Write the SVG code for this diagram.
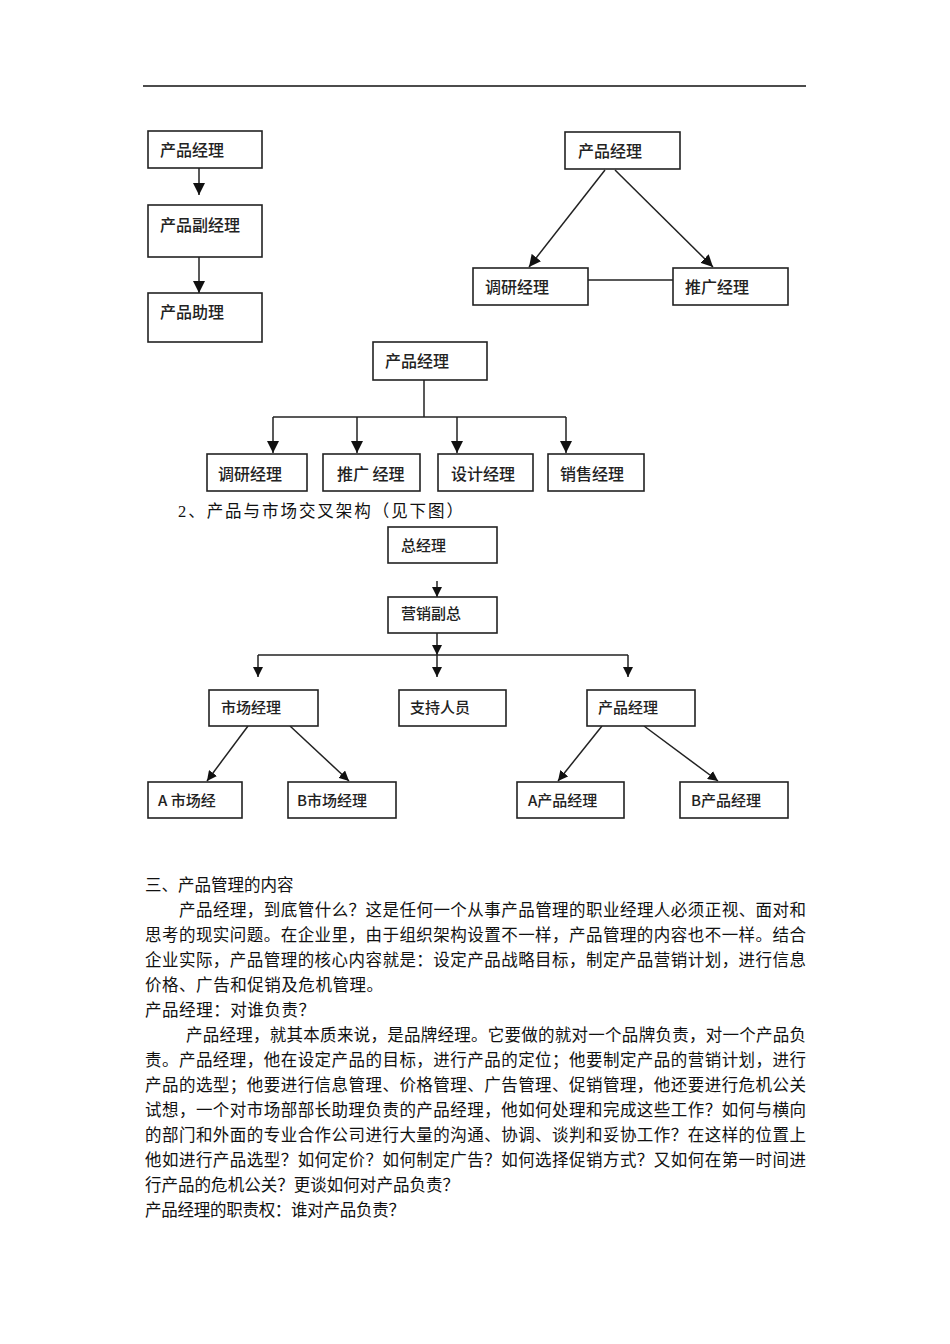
<svg xmlns="http://www.w3.org/2000/svg" width="950" height="1344" viewBox="0 0 950 1344">
<defs>
<style>
.bx{fill:#fff;stroke:#222;stroke-width:1.6}
.ln{fill:none;stroke:#222;stroke-width:1.5}
.lb{font-family:"Noto Sans CJK SC","Liberation Sans",sans-serif;font-size:16px;font-weight:500;fill:#222}
.ls{font-family:"Noto Sans CJK SC","Liberation Sans",sans-serif;font-size:15px;font-weight:500;fill:#222}
.tx{font-family:"Liberation Serif","Noto Sans CJK SC",serif;font-size:16.5px;fill:#111}
</style>
<marker id="ah" markerUnits="userSpaceOnUse" markerWidth="12" markerHeight="12" refX="12" refY="6" orient="auto" viewBox="0 0 12 12">
<path d="M0,0 L12,6 L0,12 z" fill="#111"/>
</marker>
<marker id="as" markerUnits="userSpaceOnUse" markerWidth="10" markerHeight="10" refX="10" refY="5" orient="auto" viewBox="0 0 10 10">
<path d="M0,0 L10,5 L0,10 z" fill="#111"/>
</marker>
</defs>
<rect width="950" height="1344" fill="#fff"/>
<line x1="143" y1="86" x2="806" y2="86" stroke="#111" stroke-width="1.5"/>

<g id="connectors">
<line class="ln" x1="199" y1="168" x2="199" y2="195" marker-end="url(#ah)"/>
<line class="ln" x1="199" y1="257" x2="199" y2="293" marker-end="url(#ah)"/>
<line class="ln" x1="605" y1="170" x2="529" y2="267" marker-end="url(#ah)"/>
<line class="ln" x1="615" y1="170" x2="713" y2="267" marker-end="url(#ah)"/>
<line class="ln" x1="588" y1="280" x2="673" y2="280" stroke="#555"/>
<polyline class="ln" points="424,380 424,417"/>
<line class="ln" x1="273" y1="417" x2="566" y2="417"/>
<line class="ln" x1="273" y1="417" x2="273" y2="453" marker-end="url(#ah)"/>
<line class="ln" x1="357" y1="417" x2="357" y2="453" marker-end="url(#ah)"/>
<line class="ln" x1="457" y1="417" x2="457" y2="453" marker-end="url(#ah)"/>
<line class="ln" x1="566" y1="417" x2="566" y2="453" marker-end="url(#ah)"/>
<line class="ln" x1="437" y1="581" x2="437" y2="597" marker-end="url(#as)"/>
<line class="ln" x1="437" y1="633" x2="437" y2="655" marker-end="url(#as)"/>
<line class="ln" x1="258" y1="655" x2="628" y2="655"/>
<line class="ln" x1="258" y1="655" x2="258" y2="677" marker-end="url(#as)"/>
<line class="ln" x1="437" y1="655" x2="437" y2="677" marker-end="url(#as)"/>
<line class="ln" x1="628" y1="655" x2="628" y2="677" marker-end="url(#as)"/>
<line class="ln" x1="248" y1="726" x2="207" y2="781" marker-end="url(#as)"/>
<line class="ln" x1="290" y1="726" x2="349" y2="781" marker-end="url(#as)"/>
<line class="ln" x1="602" y1="726" x2="558" y2="781" marker-end="url(#as)"/>
<line class="ln" x1="644" y1="726" x2="718" y2="781" marker-end="url(#as)"/>
</g>

<g id="d1-pm"><rect class="bx" x="148" y="131" width="114" height="37"/><text class="lb" x="160" y="156">产品经理</text></g>
<g id="d1-dpm"><rect class="bx" x="148" y="205" width="114" height="52"/><text class="lb" x="160" y="231">产品副经理</text></g>
<g id="d1-apm"><rect class="bx" x="148" y="293" width="114" height="49"/><text class="lb" x="160" y="318">产品助理</text></g>

<g id="d2-pm"><rect class="bx" x="565" y="132" width="115" height="37"/><text class="lb" x="578" y="157">产品经理</text></g>
<g id="d2-rm"><rect class="bx" x="473" y="268" width="115" height="37"/><text class="lb" x="485" y="293">调研经理</text></g>
<g id="d2-mm"><rect class="bx" x="673" y="268" width="115" height="37"/><text class="lb" x="685" y="293">推广经理</text></g>

<g id="d3-pm"><rect class="bx" x="373" y="342" width="114" height="38"/><text class="lb" x="385" y="367">产品经理</text></g>
<g id="d3-rm"><rect class="bx" x="207" y="454" width="100" height="37"/><text class="lb" x="218" y="480">调研经理</text></g>
<g id="d3-mm"><rect class="bx" x="323" y="454" width="97" height="37"/><text class="lb" x="337" y="480" xml:space="preserve">推广 经理</text></g>
<g id="d3-dm"><rect class="bx" x="438" y="454" width="95" height="37"/><text class="lb" x="451" y="480">设计经理</text></g>
<g id="d3-sm"><rect class="bx" x="548" y="454" width="96" height="37"/><text class="lb" x="560" y="480">销售经理</text></g>

<text class="tx" x="178" y="517" textLength="285" lengthAdjust="spacing">2、产品与市场交叉架构（见下图）</text>

<g id="d4-gm"><rect class="bx" x="388" y="527" width="109" height="36"/><text class="ls" x="401" y="551">总经理</text></g>
<g id="d4-vp"><rect class="bx" x="388" y="597" width="109" height="36"/><text class="ls" x="401" y="619">营销副总</text></g>
<g id="d4-mkm"><rect class="bx" x="209" y="690" width="109" height="36"/><text class="ls" x="221" y="713">市场经理</text></g>
<g id="d4-sup"><rect class="bx" x="399" y="690" width="107" height="36"/><text class="ls" x="410" y="713">支持人员</text></g>
<g id="d4-pm"><rect class="bx" x="587" y="690" width="108" height="36"/><text class="ls" x="598" y="713">产品经理</text></g>
<g id="d4-amk"><rect class="bx" x="148" y="782" width="94" height="36"/><text class="ls" x="158" y="806" xml:space="preserve">A 市场经</text></g>
<g id="d4-bmk"><rect class="bx" x="288" y="782" width="108" height="36"/><text class="ls" x="297" y="806">B市场经理</text></g>
<g id="d4-apm"><rect class="bx" x="517" y="782" width="107" height="36"/><text class="ls" x="528" y="806">A产品经理</text></g>
<g id="d4-bpm"><rect class="bx" x="680" y="782" width="108" height="36"/><text class="ls" x="691" y="806">B产品经理</text></g>

<g id="body">
<text class="tx" x="145" y="891">三、产品管理的内容</text>
<text class="tx" x="179" y="916" textLength="627" lengthAdjust="spacing">产品经理，到底管什么？这是任何一个从事产品管理的职业经理人必须正视、面对和</text>
<text class="tx" x="145" y="941" textLength="661" lengthAdjust="spacing">思考的现实问题。在企业里，由于组织架构设置不一样，产品管理的内容也不一样。结合</text>
<text class="tx" x="145" y="966" textLength="661" lengthAdjust="spacing">企业实际，产品管理的核心内容就是：设定产品战略目标，制定产品营销计划，进行信息</text>
<text class="tx" x="145" y="991" textLength="238" lengthAdjust="spacing">价格、广告和促销及危机管理。</text>
<text class="tx" x="145" y="1016" textLength="170" lengthAdjust="spacing">产品经理：对谁负责？</text>
<text class="tx" x="186" y="1041" textLength="620" lengthAdjust="spacing">产品经理，就其本质来说，是品牌经理。它要做的就对一个品牌负责，对一个产品负</text>
<text class="tx" x="145" y="1066" textLength="661" lengthAdjust="spacing">责。产品经理，他在设定产品的目标，进行产品的定位；他要制定产品的营销计划，进行</text>
<text class="tx" x="145" y="1091" textLength="661" lengthAdjust="spacing">产品的选型；他要进行信息管理、价格管理、广告管理、促销管理，他还要进行危机公关</text>
<text class="tx" x="145" y="1116" textLength="661" lengthAdjust="spacing">试想，一个对市场部部长助理负责的产品经理，他如何处理和完成这些工作？如何与横向</text>
<text class="tx" x="145" y="1141" textLength="661" lengthAdjust="spacing">的部门和外面的专业合作公司进行大量的沟通、协调、谈判和妥协工作？在这样的位置上</text>
<text class="tx" x="145" y="1166" textLength="661" lengthAdjust="spacing">他如进行产品选型？如何定价？如何制定广告？如何选择促销方式？又如何在第一时间进</text>
<text class="tx" x="145" y="1191" textLength="314" lengthAdjust="spacing">行产品的危机公关？更谈如何对产品负责？</text>
<text class="tx" x="145" y="1216" textLength="260" lengthAdjust="spacing">产品经理的职责权：谁对产品负责？</text>
</g>
</svg>
